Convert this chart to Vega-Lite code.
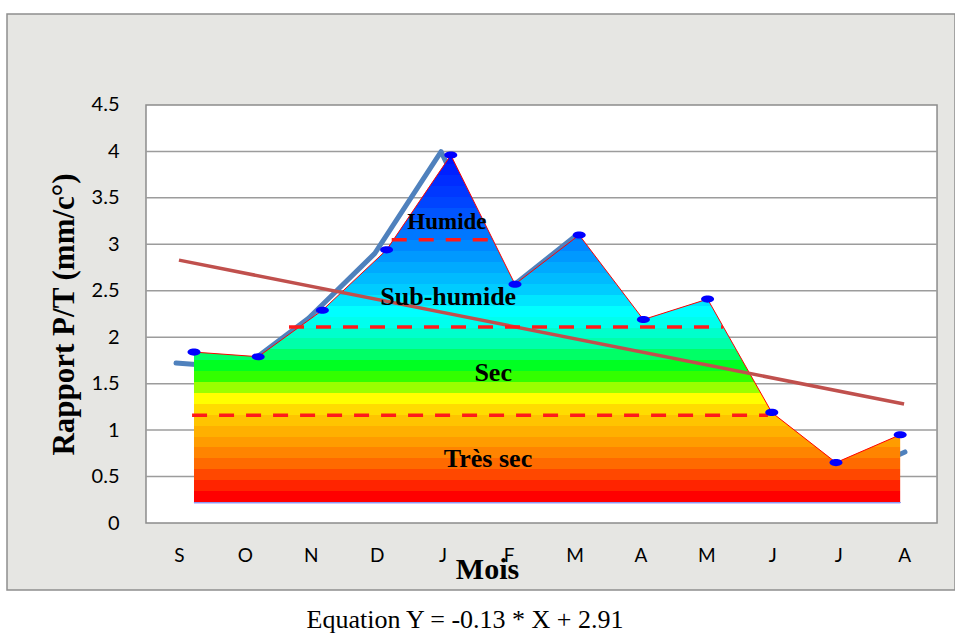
{
  "$schema": "https://vega.github.io/schema/vega-lite/v6.json",
  "width": 948,
  "height": 576,
  "autosize": {"type": "none"},
  "padding": {"left": 7, "top": 14, "right": 0, "bottom": 45},
  "background": "#ffffff",
  "config": {"view": {"fill": "#e6e6e3", "stroke": "#8f8f8f", "strokeWidth": 1.5}},
  "title": {
    "text": "Equation Y = -0.13 * X + 2.91",
    "orient": "bottom",
    "anchor": "middle",
    "font": "Liberation Serif",
    "fontSize": 26,
    "fontWeight": "normal",
    "color": "#000000",
    "offset": 17,
    "dx": -16
  },
  "datasets": {
    "pt": [
      {"mois": "S", "rang": 1, "pt": 1.84},
      {"mois": "O", "rang": 2, "pt": 1.79},
      {"mois": "N", "rang": 3, "pt": 2.29},
      {"mois": "D", "rang": 4, "pt": 2.94},
      {"mois": "J", "rang": 5, "pt": 3.96},
      {"mois": "F", "rang": 6, "pt": 2.57},
      {"mois": "M", "rang": 7, "pt": 3.10},
      {"mois": "A", "rang": 8, "pt": 2.19},
      {"mois": "M", "rang": 9, "pt": 2.41},
      {"mois": "J", "rang": 10, "pt": 1.19},
      {"mois": "J", "rang": 11, "pt": 0.65},
      {"mois": "A", "rang": 12, "pt": 0.95}
    ],
    "grille": [{"g": 0.5}, {"g": 1}, {"g": 1.5}, {"g": 2}, {"g": 2.5}, {"g": 3}, {"g": 3.5}, {"g": 4}],
    "tendance": [{"rang": 1, "valeur": 2.83}, {"rang": 12, "valeur": 1.28}],
    "seuils": [
      {"zone": "Humide", "seuil": 3.05, "debut": 4.08, "fin": 5.64},
      {"zone": "Sub-humide", "seuil": 2.11, "debut": 2.48, "fin": 9.24},
      {"zone": "Sec", "seuil": 1.16, "debut": 0.97, "fin": 9.94}
    ],
    "zones": [
      {"zone": "Humide", "rang": 4.94, "niveau": 3.24},
      {"zone": "Sub-humide", "rang": 4.96, "niveau": 2.43},
      {"zone": "Sec", "rang": 5.66, "niveau": 1.615},
      {"zone": "Très sec", "rang": 5.58, "niveau": 0.69}
    ]
  },
  "resolve": {"scale": {"x": "independent", "y": "independent"}},
  "layer": [
    {
      "data": {"values": [{}]},
      "mark": {"type": "rect", "fill": "#ffffff", "stroke": "#8c8c8c", "strokeWidth": 1.5},
      "encoding": {
        "x": {
          "datum": 0.5, "type": "quantitative",
          "scale": {"domain": [-1.6086, 12.7725], "nice": false, "zero": false},
          "axis": {
            "values": [1, 2, 3, 4, 5, 6, 7, 8, 9, 10, 11, 12],
            "labelExpr": "['S','O','N','D','J','F','M','A','M','J','J','A'][datum.value - 1]",
            "domain": false, "ticks": false, "grid": false,
            "offset": -67, "labelPadding": 23, "labelOverlap": false, "labelFlush": false,
            "labelFont": "Lato", "labelFontSize": 19, "labelColor": "#000000",
            "title": "Mois", "titleFont": "Liberation Serif", "titleFontSize": 30,
            "titleFontWeight": "bold", "titleColor": "#000000",
            "titleX": 480, "titleY": 46, "titleBaseline": "middle", "titleAlign": "center"
          }
        },
        "x2": {"datum": 12.5},
        "y": {
          "datum": 0, "type": "quantitative",
          "scale": {"domain": [-0.7212, 5.479], "nice": false, "zero": false},
          "axis": {
            "values": [0, 0.5, 1, 1.5, 2, 2.5, 3, 3.5, 4, 4.5],
            "format": "~g",
            "domain": false, "ticks": false, "grid": false,
            "offset": -139, "labelPadding": 27, "labelOverlap": false, "labelFlush": false,
            "labelFont": "Lato", "labelFontSize": 20, "labelColor": "#000000",
            "title": "Rapport P/T (mm/c°)", "titleFont": "Liberation Serif", "titleFontSize": 31,
            "titleFontWeight": "bold", "titleColor": "#000000",
            "titleX": -82, "titleY": 300, "titleAngle": -90, "titleBaseline": "middle", "titleAlign": "center"
          }
        },
        "y2": {"datum": 4.5}
      }
    },
    {
      "data": {"name": "grille"},
      "mark": {"type": "rule", "color": "#9c9c9c", "strokeWidth": 1.5},
      "encoding": {
        "x": {"datum": 0.5, "type": "quantitative", "scale": {"domain": [-1.6086, 12.7725], "nice": false, "zero": false}, "axis": null},
        "x2": {"datum": 12.5},
        "y": {"field": "g", "type": "quantitative", "scale": {"domain": [-0.7212, 5.479], "nice": false, "zero": false}, "axis": null}
      }
    },
    {
      "data": {"name": "pt"},
      "mark": {"type": "line", "color": "#4f81bd", "strokeWidth": 5, "strokeCap": "round", "strokeJoin": "round"},
      "encoding": {
        "x": {"field": "rang", "type": "quantitative", "scale": {"domain": [-1.5502, 12.755], "nice": false, "zero": false}, "axis": null},
        "y": {"field": "pt", "type": "quantitative", "scale": {"domain": [-0.434, 5.339], "nice": false, "zero": false}, "axis": null}
      }
    },
    {
      "data": {"name": "pt"},
      "mark": {
        "type": "area",
        "color": {
          "gradient": "linear", "x1": 0, "y1": 1, "x2": 0, "y2": 0,
          "stops": [
            {"offset": 0, "color": "#ff0000"}, {"offset": 0.0331, "color": "#ff0000"},
            {"offset": 0.0331, "color": "#ff2400"}, {"offset": 0.0645, "color": "#ff2400"},
            {"offset": 0.0645, "color": "#ff4800"}, {"offset": 0.0958, "color": "#ff4800"},
            {"offset": 0.0958, "color": "#ff6a00"}, {"offset": 0.1272, "color": "#ff6a00"},
            {"offset": 0.1272, "color": "#ff8400"}, {"offset": 0.1586, "color": "#ff8400"},
            {"offset": 0.1586, "color": "#ff9c00"}, {"offset": 0.1899, "color": "#ff9c00"},
            {"offset": 0.1899, "color": "#ffb000"}, {"offset": 0.2213, "color": "#ffb000"},
            {"offset": 0.2213, "color": "#ffc400"}, {"offset": 0.2527, "color": "#ffc400"},
            {"offset": 0.2527, "color": "#ffdc00"}, {"offset": 0.2840, "color": "#ffdc00"},
            {"offset": 0.2840, "color": "#ffff00"}, {"offset": 0.3154, "color": "#ffff00"},
            {"offset": 0.3154, "color": "#99ff00"}, {"offset": 0.3468, "color": "#99ff00"},
            {"offset": 0.3468, "color": "#33ff00"}, {"offset": 0.3781, "color": "#33ff00"},
            {"offset": 0.3781, "color": "#00ff22"}, {"offset": 0.4095, "color": "#00ff22"},
            {"offset": 0.4095, "color": "#00ff66"}, {"offset": 0.4409, "color": "#00ff66"},
            {"offset": 0.4409, "color": "#00ffaa"}, {"offset": 0.4722, "color": "#00ffaa"},
            {"offset": 0.4722, "color": "#00ffcc"}, {"offset": 0.5036, "color": "#00ffcc"},
            {"offset": 0.5036, "color": "#00ffee"}, {"offset": 0.5350, "color": "#00ffee"},
            {"offset": 0.5350, "color": "#00ffff"}, {"offset": 0.5663, "color": "#00ffff"},
            {"offset": 0.5663, "color": "#00e6ff"}, {"offset": 0.5977, "color": "#00e6ff"},
            {"offset": 0.5977, "color": "#00ccff"}, {"offset": 0.6291, "color": "#00ccff"},
            {"offset": 0.6291, "color": "#00bbff"}, {"offset": 0.6604, "color": "#00bbff"},
            {"offset": 0.6604, "color": "#00aaff"}, {"offset": 0.6918, "color": "#00aaff"},
            {"offset": 0.6918, "color": "#0099ff"}, {"offset": 0.7232, "color": "#0099ff"},
            {"offset": 0.7232, "color": "#0088ff"}, {"offset": 0.7545, "color": "#0088ff"},
            {"offset": 0.7545, "color": "#0077ff"}, {"offset": 0.7859, "color": "#0077ff"},
            {"offset": 0.7859, "color": "#0066ff"}, {"offset": 0.8173, "color": "#0066ff"},
            {"offset": 0.8173, "color": "#0055ff"}, {"offset": 0.8486, "color": "#0055ff"},
            {"offset": 0.8486, "color": "#0044ff"}, {"offset": 0.8800, "color": "#0044ff"},
            {"offset": 0.8800, "color": "#0038ff"}, {"offset": 0.9114, "color": "#0038ff"},
            {"offset": 0.9114, "color": "#002cff"}, {"offset": 0.9427, "color": "#002cff"},
            {"offset": 0.9427, "color": "#0020ff"}, {"offset": 0.9741, "color": "#0020ff"},
            {"offset": 0.9741, "color": "#0014ff"}, {"offset": 1, "color": "#0014ff"}
          ]
        }
      },
      "encoding": {
        "x": {"field": "rang", "type": "quantitative", "scale": {"domain": [-1.9128, 12.854], "nice": false, "zero": false}, "axis": null},
        "y": {"field": "pt", "type": "quantitative", "scale": {"domain": [-0.7212, 5.479], "nice": false, "zero": false}, "axis": null},
        "y2": {"datum": 0.22}
      }
    },
    {
      "data": {"name": "pt"},
      "mark": {"type": "rule", "color": "#8c9cf0", "strokeWidth": 1},
      "encoding": {
        "x": {"datum": 1, "type": "quantitative", "scale": {"domain": [-1.9128, 12.854], "nice": false, "zero": false}, "axis": null},
        "x2": {"datum": 12},
        "y": {"datum": 0.22, "type": "quantitative", "scale": {"domain": [-0.7212, 5.479], "nice": false, "zero": false}, "axis": null}
      }
    },
    {
      "data": {"name": "pt"},
      "mark": {"type": "line", "color": "#ff0000", "strokeWidth": 1},
      "encoding": {
        "x": {"field": "rang", "type": "quantitative", "scale": {"domain": [-1.9128, 12.854], "nice": false, "zero": false}, "axis": null},
        "y": {"field": "pt", "type": "quantitative", "scale": {"domain": [-0.7212, 5.479], "nice": false, "zero": false}, "axis": null}
      }
    },
    {
      "data": {"name": "tendance"},
      "mark": {"type": "line", "color": "#c0504d", "strokeWidth": 3.5},
      "encoding": {
        "x": {"field": "rang", "type": "quantitative", "scale": {"domain": [-1.6086, 12.7725], "nice": false, "zero": false}, "axis": null},
        "y": {"field": "valeur", "type": "quantitative", "scale": {"domain": [-0.7212, 5.479], "nice": false, "zero": false}, "axis": null}
      }
    },
    {
      "data": {"name": "seuils"},
      "mark": {"type": "rule", "color": "#ff1a1a", "strokeWidth": 3.5, "strokeDash": [15, 12]},
      "encoding": {
        "x": {"field": "debut", "type": "quantitative", "scale": {"domain": [-1.9128, 12.854], "nice": false, "zero": false}, "axis": null},
        "x2": {"field": "fin"},
        "y": {"field": "seuil", "type": "quantitative", "scale": {"domain": [-0.7212, 5.479], "nice": false, "zero": false}, "axis": null}
      }
    },
    {
      "data": {"name": "pt"},
      "mark": {
        "type": "point",
        "shape": "M-1,0A1,0.55,0,1,0,1,0A1,0.55,0,1,0,-1,0Z",
        "size": 169,
        "filled": true,
        "color": "#0000ff",
        "opacity": 1
      },
      "encoding": {
        "x": {"field": "rang", "type": "quantitative", "scale": {"domain": [-1.9128, 12.854], "nice": false, "zero": false}, "axis": null},
        "y": {"field": "pt", "type": "quantitative", "scale": {"domain": [-0.7212, 5.479], "nice": false, "zero": false}, "axis": null}
      }
    },
    {
      "data": {"name": "zones"},
      "mark": {"type": "text", "font": "Liberation Serif", "fontWeight": "bold", "color": "#000000", "align": "center", "baseline": "middle"},
      "encoding": {
        "x": {"field": "rang", "type": "quantitative", "scale": {"domain": [-1.9128, 12.854], "nice": false, "zero": false}, "axis": null},
        "y": {"field": "niveau", "type": "quantitative", "scale": {"domain": [-0.7212, 5.479], "nice": false, "zero": false}, "axis": null},
        "text": {"field": "zone"},
        "size": {"condition": {"test": "datum.zone === 'Humide'", "value": 23}, "value": 26}
      }
    }
  ]
}
